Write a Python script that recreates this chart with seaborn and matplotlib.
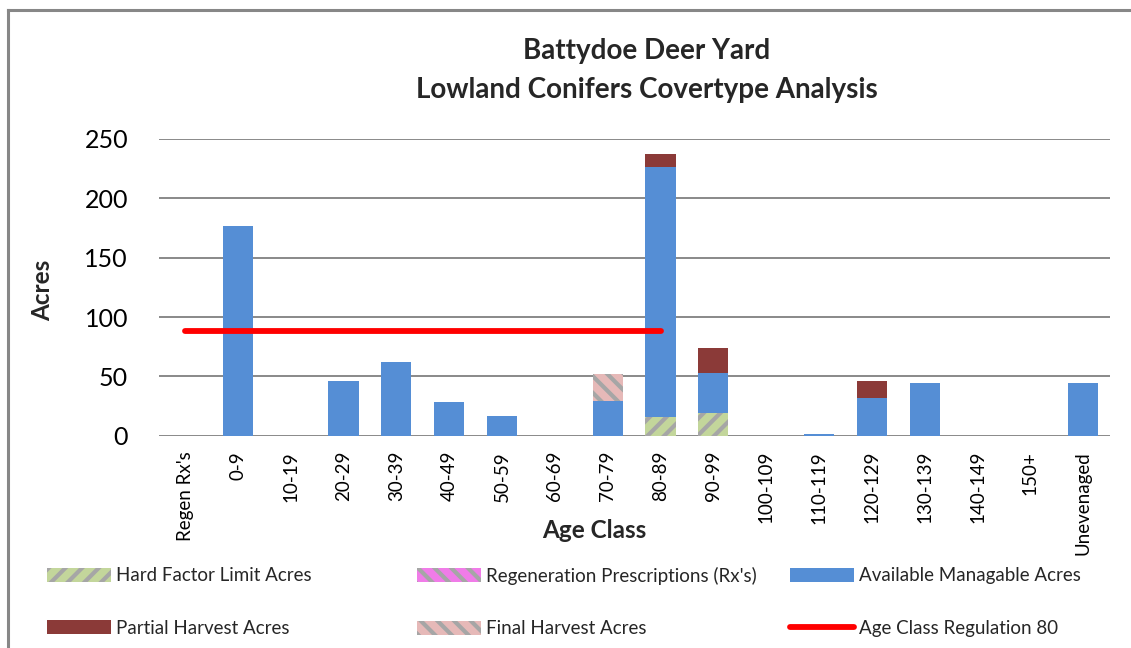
import numpy as np
import pandas as pd
import matplotlib
matplotlib.use("Agg")
import matplotlib.pyplot as plt
import seaborn as sns
from matplotlib.patches import Patch
from matplotlib.lines import Line2D

# ---------------- data ----------------
age_classes = ["Regen Rx's", "0-9", "10-19", "20-29", "30-39", "40-49", "50-59",
               "60-69", "70-79", "80-89", "90-99", "100-109", "110-119",
               "120-129", "130-139", "140-149", "150+", "Unevenaged"]
hard_factor = [0, 0, 0, 0, 0, 0, 0, 0, 0, 16, 19, 0, 0, 0, 0, 0, 0, 0]
regen_rx    = [0, 0, 0, 0, 0, 0, 0, 0, 0, 0, 0, 0, 0, 0, 0, 0, 0, 0]
available   = [0, 177, 0, 46, 62, 28, 17, 0, 29, 210, 34, 0, 1.5, 32, 44, 0, 0, 44]
partial     = [0, 0, 0, 0, 0, 0, 0, 0, 0, 11, 21, 0, 0, 14, 0, 0, 0, 0]
final       = [0, 0, 0, 0, 0, 0, 0, 0, 23, 0, 0, 0, 0, 0, 0, 0, 0, 0]
age_reg     = [88, 88, 88, 88, 88, 88, 88, 88, 88, 88,
               None, None, None, None, None, None, None, None]

title_lines = ["Battydoe Deer Yard", "Lowland Conifers Covertype Analysis"]
y_ticks = [0, 50, 100, 150, 200, 250]

# ---------------- style ----------------
sns.set_theme(style="white")
FONT = ["Lato", "DejaVu Sans"]
plt.rcParams["font.family"] = FONT
plt.rcParams["hatch.linewidth"] = 3.0

C_HARD = "#C3D69B"
C_REGEN = "#F07CE8"
C_AVAIL = "#558ED5"
C_PART = "#8B3A38"
C_FINAL = "#E6B9B8"
C_HATCH = "#A6A6A6"
C_RED = "#FF0000"
C_GRID = "#898989"

W, H = 1131, 648
fig = plt.figure(figsize=(W / 100, H / 100), dpi=100)
ax = fig.add_axes([158.6 / W, 1 - 435.7 / H, (1109.6 - 158.6) / W, (435.7 - 139) / H])

df = pd.DataFrame({"age": age_classes, "hard": hard_factor, "regen": regen_rx,
                   "avail": available, "partial": partial, "final": final})
df["c1"] = df["hard"]
df["c2"] = df["c1"] + df["regen"]
df["c3"] = df["c2"] + df["avail"]
df["c4"] = df["c3"] + df["partial"]
df["c5"] = df["c4"] + df["final"]

layers = [
    ("c5", C_FINAL, "\\\\"),
    ("c4", C_PART, None),
    ("c3", C_AVAIL, None),
    ("c2", C_REGEN, "\\\\"),
    ("c1", C_HARD, "//"),
]
for col, color, hatch in layers:
    kw = dict(x="age", y=col, data=df, order=age_classes, color=color,
              saturation=1, width=0.57, ax=ax, errorbar=None)
    if hatch:
        kw.update(hatch=hatch, edgecolor=C_HATCH, linewidth=0)
    else:
        kw.update(edgecolor=color, linewidth=0)
    sns.barplot(**kw)

reg = pd.DataFrame({"pos": np.arange(len(age_classes)), "val": age_reg}).dropna()
sns.lineplot(x="pos", y="val", data=reg, color=C_RED, linewidth=4.2,
             ax=ax, solid_capstyle="round", zorder=5)

ax.set_ylim(0, 250)
ax.set_xlim(-0.5, len(age_classes) - 0.5)
ax.set_yticks(y_ticks)
ax.set_yticklabels([str(v) for v in y_ticks], fontsize=18, color="black")
ax.set_xticks(np.arange(len(age_classes)))
ax.set_xticklabels(age_classes, rotation=90, fontsize=13.5, color="black",
                   va="top", ha="center")
ax.tick_params(axis="y", length=0, pad=22)
ax.tick_params(axis="x", length=0, pad=11)
ax.set_xlabel("")
ax.set_ylabel("")
ax.grid(axis="y", color=C_GRID, linewidth=1.4)
ax.grid(axis="x", visible=False)
ax.set_axisbelow(True)
for s in ax.spines.values():
    s.set_visible(False)

# titles and labels
fig.text(647 / W, 1 - 51 / H, title_lines[0], ha="center", va="center",
         fontsize=20, fontweight="bold", family=FONT)
fig.text(647 / W, 1 - 90 / H, title_lines[1], ha="center", va="center",
         fontsize=20, fontweight="bold", family=FONT)
fig.text(43 / W, 1 - 290 / H, "Acres", rotation=90, ha="center", va="center",
         fontsize=17.5, fontweight="bold", family=FONT)
fig.text(594 / W, 1 - 530 / H, "Age Class", ha="center", va="center",
         fontsize=17.5, fontweight="bold", family=FONT)

# legends (three columns)
h_hard = Patch(facecolor=C_HARD, edgecolor=C_HATCH, hatch="//", linewidth=0)
h_regen = Patch(facecolor=C_REGEN, edgecolor=C_HATCH, hatch="\\\\", linewidth=0)
h_avail = Patch(facecolor=C_AVAIL, edgecolor=C_AVAIL, linewidth=0)
h_part = Patch(facecolor=C_PART, edgecolor=C_PART, linewidth=0)
h_final = Patch(facecolor=C_FINAL, edgecolor=C_HATCH, hatch="\\\\", linewidth=0)
h_line = Line2D([0], [0], color=C_RED, linewidth=4.2, solid_capstyle="round")

cols = [
    (47, [h_hard, h_part], ["Hard Factor Limit Acres", "Partial Harvest Acres"]),
    (417, [h_regen, h_final], ["Regeneration Prescriptions (Rx's)", "Final Harvest Acres"]),
    (790, [h_avail, h_line], ["Available Managable Acres", "Age Class Regulation 80"]),
]
for x0, hs, ls in cols:
    fig.legend(hs, ls, loc="center left", bbox_to_anchor=(x0 / W, 1 - 602 / H),
               frameon=False, handlelength=3.4, handleheight=0.75,
               handletextpad=0.3, labelspacing=1.9, borderpad=0,
               borderaxespad=0, prop={"family": FONT, "size": 13.5})

# outer chart border (left and top edges visible)
bx, by = 7.5 / W, 1 - 9.5 / H
fig.add_artist(Line2D([bx, bx], [-0.05, by], transform=fig.transFigure,
                      color="#878787", linewidth=2.2, solid_capstyle="projecting"))
fig.add_artist(Line2D([bx, 1.05], [by, by], transform=fig.transFigure,
                      color="#878787", linewidth=2.2, solid_capstyle="projecting"))

fig.savefig("out.png", dpi=100, facecolor="white")
